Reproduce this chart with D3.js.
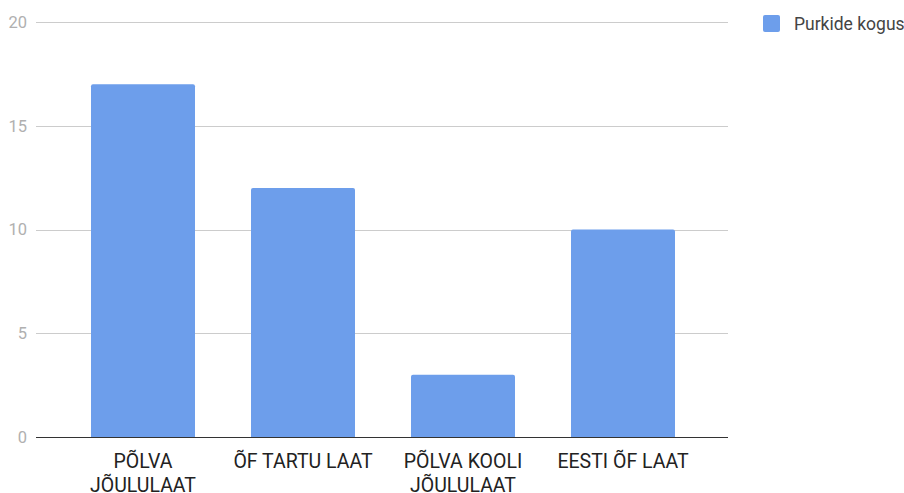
<!DOCTYPE html>
<html><head><meta charset="utf-8">
<script src="https://cdn.jsdelivr.net/npm/d3@7"></script>
<style>body{margin:0;background:#fff}svg{display:block}</style>
</head><body>
<svg id="c" width="904" height="493"></svg>
<script>
const categories = [["PÕLVA","JÕULULAAT"],["ÕF TARTU LAAT"],["PÕLVA KOOLI","JÕULULAAT"],["EESTI ÕF LAAT"]];
const values = [17, 12, 3, 10];
const yTicks = [0, 5, 10, 15, 20];
const seriesName = "Purkide kogus";

const svg = d3.select("#c");
const font = "Roboto, sans-serif";
const x = d3.scaleBand().domain(d3.range(categories.length)).range([63, 703]).paddingInner(0.35).paddingOuter(0.175);
const y = d3.scaleLinear().domain([0, 20]).range([437, 22]);

// gridlines
svg.append("g").selectAll("line").data(yTicks.filter(d=>d>0)).join("line")
  .attr("x1", 36).attr("x2", 728).attr("y1", d=>Math.round(y(d))+0.5).attr("y2", d=>Math.round(y(d))+0.5)
  .attr("stroke", "#cccccc").attr("stroke-width", 1);

// y labels
svg.append("g").selectAll("text").data(yTicks).join("text")
  .attr("x", 27).attr("y", d=>y(d)).attr("dy", "0.35em").attr("text-anchor", "end")
  .attr("font-family", font).attr("font-size", 16.5).attr("fill", "#b0b0b0").text(d=>d);

// bars
svg.append("g").selectAll("path").data(values).join("path")
  .attr("fill", "#6d9eeb")
  .attr("d", (d,i)=>{
    const x0 = x(i), w = x.bandwidth(), y0 = y(d), b = y(0), r = 2;
    return `M${x0},${b}V${y0+r}Q${x0},${y0} ${x0+r},${y0}H${x0+w-r}Q${x0+w},${y0} ${x0+w},${y0+r}V${b}Z`;
  });

// baseline
svg.append("line").attr("x1", 36).attr("x2", 728).attr("y1", y(0)+0.5).attr("y2", y(0)+0.5)
  .attr("stroke", "#333333").attr("stroke-width", 1.2);

// x labels
const xl = svg.append("g").selectAll("text").data(categories).join("text")
  .attr("text-anchor", "middle").attr("font-family", font).attr("font-size", 19.5).attr("fill", "#222222")
  .attr("transform", (d,i)=>`translate(${x(i)+x.bandwidth()/2},0)`);
xl.selectAll("tspan").data(d=>d).join("tspan")
  .attr("x", 0).attr("y", (d,j)=>468 + j*24).text(d=>d);

// legend
const lg = svg.append("g");
lg.append("rect").attr("x", 763).attr("y", 15).attr("width", 17).attr("height", 17).attr("rx", 2).attr("fill", "#6d9eeb");
lg.append("text").attr("x", 794).attr("y", 24).attr("dy", "0.35em").attr("font-family", font).attr("font-size", 17.5)
  .attr("fill", "#444444").text(seriesName);
</script>
</body></html>
